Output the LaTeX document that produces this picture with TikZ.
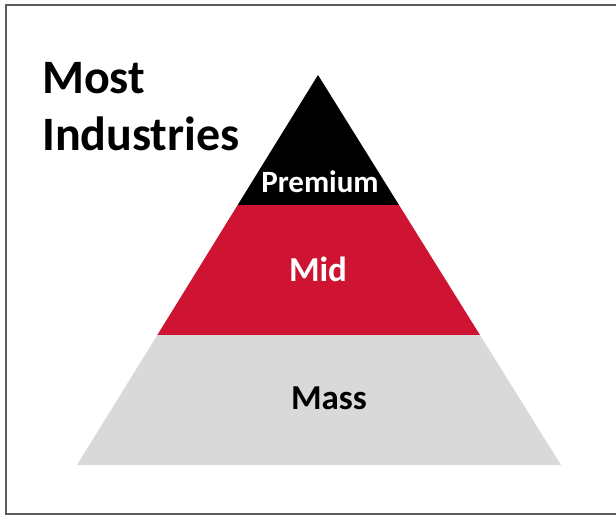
\documentclass[tikz,border=0pt]{standalone}
\usepackage{fontspec}
\setmainfont{Carlito}
\usetikzlibrary{calc}

\definecolor{midred}{RGB}{206,20,50}
\definecolor{massgray}{RGB}{217,217,217}
\definecolor{framegray}{RGB}{90,90,90}

\begin{document}
\begin{tikzpicture}[x=1pt,y=-1pt,
  tier/.style={font=\bfseries\fontsize{35}{40}\selectfont, anchor=base, inner sep=0pt},
  title/.style={font=\bfseries\fontsize{48}{56}\selectfont, anchor=base west, inner sep=0pt}]

\useasboundingbox (0,0) rectangle (616,515);

% frame, open on the right
\draw[framegray, line width=2pt] (616,5) -- (6,5) -- (6,514) -- (616,514);

\coordinate (apex) at (318,75);
\coordinate (bl) at (77,465);
\coordinate (br) at (561,465);

\path ($(apex)!1/3!(bl)$) coordinate (l1);
\path ($(apex)!1/3!(br)$) coordinate (r1);
\path ($(apex)!2/3!(bl)$) coordinate (l2);
\path ($(apex)!2/3!(br)$) coordinate (r2);

\fill[black] (apex) -- (r1) -- (l1) -- cycle;
\fill[midred] (l1) -- (r1) -- (r2) -- (l2) -- cycle;
\fill[massgray] (l2) -- (r2) -- (br) -- (bl) -- cycle;

\node[tier, white, font=\bfseries\fontsize{31}{36}\selectfont] (premium) at (320,192) {Premium};
\node[tier, white] (mid) at (318,281) {Mid};
\node[tier, black] (mass) at (329,409) {Mass};

\node[title] (most) at (42,93) {Most};
\node[title] (industries) at (42,150) {Industries};

\end{tikzpicture}
\end{document}
